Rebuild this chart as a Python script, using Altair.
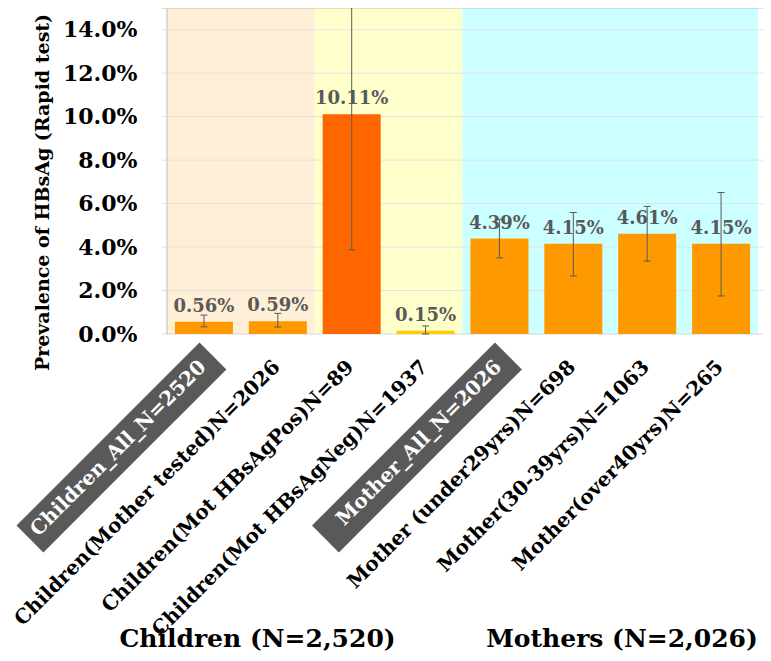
import altair as alt
import pandas as pd

# ---------------- data ----------------
categories = [
    "Children_All_N=2520",
    "Children(Mother tested)N=2026",
    "Children(Mot HBsAgPos)N=89",
    "Children(Mot HBsAgNeg)N=1937",
    "Mother_All_N=2026",
    "Mother (under29yrs)N=698",
    "Mother(30-39yrs)N=1063",
    "Mother(over40yrs)N=265",
]
prevalence = [0.0056, 0.0059, 0.1011, 0.0015, 0.0439, 0.0415, 0.0461, 0.0415]
ci_low = [0.0033, 0.0032, 0.0387, 0.0000, 0.0350, 0.0267, 0.0335, 0.0175]
ci_high = [0.0087, 0.0095, 0.1635, 0.0037, 0.0528, 0.0559, 0.0587, 0.0651]
bar_colors = ["#FF9900", "#FF9900", "#FF6600", "#FFCC00",
              "#FF9900", "#FF9900", "#FF9900", "#FF9900"]
highlighted = [True, False, False, False, True, False, False, False]

panel_first = [0, 2, 4]
panel_last = [1, 3, 7]
panel_colors = ["#FFEFD6", "#FFFFCC", "#CCFFFF"]

y_ticks = [0.0, 0.02, 0.04, 0.06, 0.08, 0.10, 0.12, 0.14]
y_max = 0.15
group_titles = ["Children (N=2,520)", "Mothers (N=2,026)"]
y_title = "Prevalence of HBsAg (Rapid test)"

# ---------------- layout ----------------
W, H = 601, 326
FONT = "DejaVu Serif"

bars_df = pd.DataFrame({
    "idx": list(range(len(categories))),
    "category": categories,
    "prevalence": prevalence,
    "low": ci_low,
    "high": ci_high,
    "color": bar_colors,
    "highlight": highlighted,
})
panels_df = pd.DataFrame({"first": panel_first, "last": panel_last, "color": panel_colors})
grid_df = pd.DataFrame({"tick": y_ticks[1:]})
one_df = pd.DataFrame({"a": [0]})

xscale = alt.Scale(domain=[-0.5, 7.5], nice=False, zero=False)
yscale = alt.Scale(domain=[0, y_max], nice=False, zero=True)

y_axis = alt.Axis(
    values=y_ticks, format=".1%",
    labelFont=FONT, labelFontWeight="bold", labelFontSize=22, labelColor="black",
    labelPadding=25, ticks=False, domain=False, grid=False,
    title=y_title, titleFont=FONT, titleFontWeight="bold", titleFontSize=19,
    titleColor="black", titleAngle=270, titleX=-120, titleY=184,
    titleAlign="center", titleBaseline="middle",
)

X = lambda f: alt.X(f, scale=xscale, axis=None)
Y = lambda f: alt.Y(f, scale=yscale, axis=y_axis)

background = alt.Chart(panels_df).transform_calculate(
    x0="datum.first - 0.5", x1="datum.last + 0.5"
).mark_rect().encode(
    x=X("x0:Q"), x2="x1:Q",
    y=alt.Y(datum=0, scale=yscale, axis=y_axis), y2=alt.Y2(datum=y_max),
    color=alt.Color("color:N", scale=None),
)

grid = alt.Chart(grid_df).mark_rule(color="#E2E2E2", strokeWidth=1).encode(y=Y("tick:Q"))

frame_top = alt.Chart(one_df).mark_rule(color="#BDBDBD").encode(
    y=alt.Y(datum=y_max, scale=yscale, axis=y_axis))
frame_bottom = alt.Chart(one_df).mark_rule(color="#D6D6D6").encode(
    y=alt.Y(datum=0, scale=yscale, axis=y_axis))
frame_left = alt.Chart(one_df).mark_rule(color="#BDBDBD").encode(
    x=alt.X(datum=-0.5, scale=xscale, axis=None))

bars = alt.Chart(bars_df).mark_bar(size=58).encode(
    x=X("idx:Q"), y=Y("prevalence:Q"), color=alt.Color("color:N", scale=None))

err = alt.Chart(bars_df).mark_rule(color="#5A5A5A", strokeWidth=1, clip=True).encode(
    x=X("idx:Q"), y=Y("low:Q"), y2="high:Q")
cap_hi = alt.Chart(bars_df).mark_rule(color="#5A5A5A", strokeWidth=1, clip=True,
                                      xOffset=-3.5, x2Offset=3.5).encode(
    x=X("idx:Q"), x2="idx:Q", y=Y("high:Q"))
cap_lo = alt.Chart(bars_df).mark_rule(color="#5A5A5A", strokeWidth=1,
                                      xOffset=-3.5, x2Offset=3.5).encode(
    x=X("idx:Q"), x2="idx:Q", y=Y("low:Q"))

values = alt.Chart(bars_df).mark_text(
    dy=-10, baseline="alphabetic", align="center", font=FONT, fontWeight="bold",
    fontSize=18, color="#595959",
).encode(x=X("idx:Q"), y=Y("prevalence:Q"), text=alt.Text("prevalence:Q", format=".2%"))

boxes = alt.Chart(bars_df).transform_filter("datum.highlight").mark_rule(
    color="#595959", strokeWidth=38, strokeCap="butt", xOffset=9, x2Offset=-174,
).encode(x=X("idx:Q"), x2="idx:Q", y=alt.value(H + 22), y2=alt.value(H + 205))

xlabels = alt.Chart(bars_df).mark_text(
    angle=315, align="right", baseline="middle", font=FONT, fontWeight="bold",
    fontSize=20, xOffset=-1,
).encode(
    x=X("idx:Q"), y=alt.value(H + 30), text="category:N",
    color=alt.condition("datum.highlight", alt.value("white"), alt.value("black")),
)

title_layers = []
for t, px in zip(group_titles, [95.5, 460]):
    title_layers.append(
        alt.Chart(one_df).mark_text(
            text=t, font=FONT, fontWeight="bold", fontSize=25, color="black",
            align="center", baseline="alphabetic",
        ).encode(x=alt.value(px), y=alt.value(H + 313))
    )

chart = alt.layer(
    background, grid, frame_top, frame_bottom, frame_left,
    bars, err, cap_hi, cap_lo, values, boxes, xlabels, *title_layers,
).properties(
    width=W, height=H,
    autosize=alt.AutoSizeParams(type="none"),
    padding={"left": 154, "top": 0, "right": 0, "bottom": 319},
).configure_view(stroke=None)

chart.save("out.html", embed_options={"renderer": "svg", "actions": False})
